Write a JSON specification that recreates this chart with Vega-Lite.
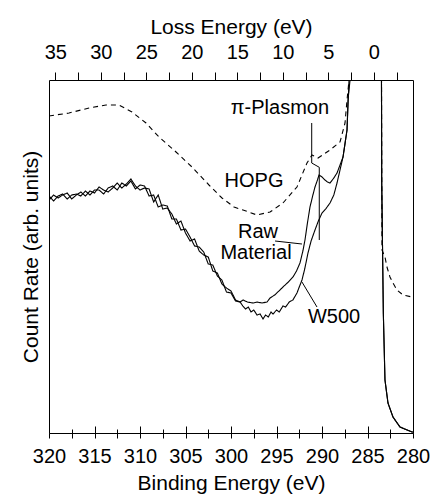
{
  "$schema": "https://vega.github.io/schema/vega-lite/v6.json",
  "width": 364,
  "height": 353,
  "autosize": {"type": "none"},
  "padding": {"left": 49, "top": 80, "right": 18, "bottom": 71},
  "background": "white",
  "config": {
    "view": {"stroke": "black", "strokeWidth": 1},
    "font": "Liberation Sans",
    "axis": {
      "labelFont": "Liberation Sans", "titleFont": "Liberation Sans",
      "labelFontSize": 20, "titleFontSize": 21, "titleFontWeight": "normal",
      "labelColor": "black", "titleColor": "black", "tickColor": "black", "domainColor": "black",
      "grid": false
    }
  },
  "datasets": {
    "spectra": [
      {"series":"HOPG","be":320,"count":317},{"series":"HOPG","be":317.8,"count":320},{"series":"HOPG","be":315.6,"count":325},{"series":"HOPG","be":313.74,"count":328},{"series":"HOPG","be":312.31,"count":328},{"series":"HOPG","be":310.88,"count":321},{"series":"HOPG","be":309.34,"count":310},{"series":"HOPG","be":307.91,"count":296},{"series":"HOPG","be":306.04,"count":281},{"series":"HOPG","be":304.29,"count":266},{"series":"HOPG","be":302.42,"count":248},{"series":"HOPG","be":300.99,"count":235},{"series":"HOPG","be":299.67,"count":226},{"series":"HOPG","be":298.68,"count":223},{"series":"HOPG","be":297.14,"count":218},{"series":"HOPG","be":295.71,"count":221},{"series":"HOPG","be":294.29,"count":230},{"series":"HOPG","be":292.75,"count":246},{"series":"HOPG","be":291.65,"count":270},{"series":"HOPG","be":291.1,"count":278},{"series":"HOPG","be":290.44,"count":275},{"series":"HOPG","be":289.12,"count":283},{"series":"HOPG","be":288.02,"count":291},{"series":"HOPG","be":287.47,"count":310},{"series":"HOPG","be":287.25,"count":333},{"series":"HOPG","be":287.03,"count":353},{"series":"HOPG","be":286.5,"count":600},{"series":"HOPG","be":285.5,"count":1500},{"series":"HOPG","be":284.5,"count":2500},{"series":"HOPG","be":283.8,"count":1500},{"series":"HOPG","be":283.5,"count":500},{"series":"HOPG","be":283.41,"count":183},{"series":"HOPG","be":283.08,"count":176},{"series":"HOPG","be":282.86,"count":166},{"series":"HOPG","be":282.53,"count":156},{"series":"HOPG","be":282.2,"count":150},{"series":"HOPG","be":281.76,"count":143},{"series":"HOPG","be":281.1,"count":138},{"series":"HOPG","be":280.11,"count":136},{"series":"HOPG","be":280,"count":136},
      {"series":"Raw Material","be":320,"count":237},{"series":"Raw Material","be":319.5,"count":232},{"series":"Raw Material","be":319,"count":237},{"series":"Raw Material","be":318.5,"count":239},{"series":"Raw Material","be":318,"count":234},{"series":"Raw Material","be":317.5,"count":238},{"series":"Raw Material","be":317,"count":239},{"series":"Raw Material","be":316.5,"count":237},{"series":"Raw Material","be":316,"count":242},{"series":"Raw Material","be":315.5,"count":238},{"series":"Raw Material","be":315,"count":243},{"series":"Raw Material","be":314.5,"count":243},{"series":"Raw Material","be":314,"count":239},{"series":"Raw Material","be":313.5,"count":245},{"series":"Raw Material","be":313,"count":247},{"series":"Raw Material","be":312.5,"count":243},{"series":"Raw Material","be":312,"count":250},{"series":"Raw Material","be":311.5,"count":247},{"series":"Raw Material","be":311,"count":252},{"series":"Raw Material","be":310.5,"count":244},{"series":"Raw Material","be":310,"count":248},{"series":"Raw Material","be":309.5,"count":247},{"series":"Raw Material","be":309,"count":237},{"series":"Raw Material","be":308.5,"count":238},{"series":"Raw Material","be":308,"count":226},{"series":"Raw Material","be":307.5,"count":228},{"series":"Raw Material","be":307,"count":227},{"series":"Raw Material","be":306.5,"count":214},{"series":"Raw Material","be":306,"count":214},{"series":"Raw Material","be":305.5,"count":203},{"series":"Raw Material","be":305,"count":204},{"series":"Raw Material","be":304.5,"count":196},{"series":"Raw Material","be":304,"count":187},{"series":"Raw Material","be":303.5,"count":186},{"series":"Raw Material","be":303,"count":181},{"series":"Raw Material","be":302.5,"count":169},{"series":"Raw Material","be":302,"count":168},{"series":"Raw Material","be":301.5,"count":157},{"series":"Raw Material","be":301,"count":153},{"series":"Raw Material","be":300.5,"count":141},{"series":"Raw Material","be":300,"count":140},{"series":"Raw Material","be":299.5,"count":132},{"series":"Raw Material","be":299,"count":131},{"series":"Raw Material","be":298.68,"count":133},{"series":"Raw Material","be":298.2,"count":131},{"series":"Raw Material","be":297.58,"count":130},{"series":"Raw Material","be":297.14,"count":131},{"series":"Raw Material","be":296.6,"count":130},{"series":"Raw Material","be":296.04,"count":131},{"series":"Raw Material","be":295.71,"count":135},{"series":"Raw Material","be":295.2,"count":138},{"series":"Raw Material","be":294.62,"count":143},{"series":"Raw Material","be":294.29,"count":146},{"series":"Raw Material","be":293.7,"count":151},{"series":"Raw Material","be":293.19,"count":156},{"series":"Raw Material","be":292.8,"count":162},{"series":"Raw Material","be":292.42,"count":170},{"series":"Raw Material","be":292.1,"count":182},{"series":"Raw Material","be":291.87,"count":193},{"series":"Raw Material","be":291.6,"count":210},{"series":"Raw Material","be":291.32,"count":226},{"series":"Raw Material","be":291,"count":238},{"series":"Raw Material","be":290.77,"count":246},{"series":"Raw Material","be":290.5,"count":253},{"series":"Raw Material","be":290.33,"count":258},{"series":"Raw Material","be":290,"count":256},{"series":"Raw Material","be":289.67,"count":253},{"series":"Raw Material","be":289.4,"count":251},{"series":"Raw Material","be":289.12,"count":250},{"series":"Raw Material","be":288.7,"count":255},{"series":"Raw Material","be":288.35,"count":260},{"series":"Raw Material","be":287.69,"count":276},{"series":"Raw Material","be":287.25,"count":303},{"series":"Raw Material","be":287.14,"count":333},{"series":"Raw Material","be":286.92,"count":353},{"series":"Raw Material","be":286.5,"count":600},{"series":"Raw Material","be":285.5,"count":1500},{"series":"Raw Material","be":284.5,"count":2500},{"series":"Raw Material","be":283.8,"count":1500},{"series":"Raw Material","be":283.5,"count":500},{"series":"Raw Material","be":283.44,"count":253},{"series":"Raw Material","be":283.26,"count":120},{"series":"Raw Material","be":283.08,"count":53},{"series":"Raw Material","be":282.75,"count":30},{"series":"Raw Material","be":282.2,"count":16},{"series":"Raw Material","be":281.43,"count":6},{"series":"Raw Material","be":280.11,"count":1},{"series":"Raw Material","be":280,"count":1},
      {"series":"W500","be":320,"count":233},{"series":"W500","be":319.5,"count":238},{"series":"W500","be":319,"count":235},{"series":"W500","be":318.5,"count":238},{"series":"W500","be":318,"count":240},{"series":"W500","be":317.5,"count":234},{"series":"W500","be":317,"count":238},{"series":"W500","be":316.5,"count":241},{"series":"W500","be":316,"count":237},{"series":"W500","be":315.5,"count":242},{"series":"W500","be":315,"count":240},{"series":"W500","be":314.5,"count":246},{"series":"W500","be":314,"count":243},{"series":"W500","be":313.5,"count":241},{"series":"W500","be":313,"count":245},{"series":"W500","be":312.5,"count":250},{"series":"W500","be":312,"count":245},{"series":"W500","be":311.5,"count":249},{"series":"W500","be":311,"count":254},{"series":"W500","be":310.5,"count":247},{"series":"W500","be":310,"count":243},{"series":"W500","be":309.5,"count":245},{"series":"W500","be":309,"count":244},{"series":"W500","be":308.5,"count":231},{"series":"W500","be":308,"count":238},{"series":"W500","be":307.5,"count":224},{"series":"W500","be":307,"count":225},{"series":"W500","be":306.5,"count":219},{"series":"W500","be":306,"count":209},{"series":"W500","be":305.5,"count":212},{"series":"W500","be":305,"count":200},{"series":"W500","be":304.5,"count":192},{"series":"W500","be":304,"count":194},{"series":"W500","be":303.5,"count":182},{"series":"W500","be":303,"count":178},{"series":"W500","be":302.5,"count":176},{"series":"W500","be":302,"count":162},{"series":"W500","be":301.5,"count":160},{"series":"W500","be":301,"count":149},{"series":"W500","be":300.5,"count":145},{"series":"W500","be":300,"count":142},{"series":"W500","be":299.5,"count":133},{"series":"W500","be":299,"count":131},{"series":"W500","be":298.7,"count":127},{"series":"W500","be":298.4,"count":124},{"series":"W500","be":298.1,"count":126},{"series":"W500","be":297.8,"count":121},{"series":"W500","be":297.5,"count":123},{"series":"W500","be":297.14,"count":118},{"series":"W500","be":296.8,"count":119},{"series":"W500","be":296.48,"count":114},{"series":"W500","be":296.2,"count":118},{"series":"W500","be":295.9,"count":116},{"series":"W500","be":295.6,"count":121},{"series":"W500","be":295.38,"count":119},{"series":"W500","be":295,"count":123},{"series":"W500","be":294.7,"count":121},{"series":"W500","be":294.29,"count":127},{"series":"W500","be":294,"count":126},{"series":"W500","be":293.6,"count":131},{"series":"W500","be":293.2,"count":133},{"series":"W500","be":292.75,"count":140},{"series":"W500","be":292.5,"count":146},{"series":"W500","be":292.2,"count":153},{"series":"W500","be":291.9,"count":164},{"series":"W500","be":291.54,"count":180},{"series":"W500","be":291.2,"count":192},{"series":"W500","be":290.77,"count":203},{"series":"W500","be":290.4,"count":212},{"series":"W500","be":290,"count":220},{"series":"W500","be":289.6,"count":224},{"series":"W500","be":289.12,"count":230},{"series":"W500","be":288.7,"count":238},{"series":"W500","be":288.35,"count":250},{"series":"W500","be":287.69,"count":276},{"series":"W500","be":287.25,"count":303},{"series":"W500","be":287.03,"count":353},{"series":"W500","be":286.5,"count":600},{"series":"W500","be":285.5,"count":1500},{"series":"W500","be":284.5,"count":2500},{"series":"W500","be":283.8,"count":1500},{"series":"W500","be":283.5,"count":500},{"series":"W500","be":283.44,"count":253},{"series":"W500","be":283.26,"count":120},{"series":"W500","be":283.08,"count":53},{"series":"W500","be":282.75,"count":30},{"series":"W500","be":282.2,"count":16},{"series":"W500","be":281.43,"count":6},{"series":"W500","be":280.11,"count":1},{"series":"W500","be":280,"count":1}
    ],
    "labels": [
      {"be":294.62,"count":325,"label":"π-Plasmon"},
      {"be":297.47,"count":252,"label":"HOPG"},
      {"be":297.03,"count":201,"label":"Raw"},
      {"be":297.25,"count":180,"label":"Material"},
      {"be":288.68,"count":116,"label":"W500"}
    ],
    "leaders": [
      {"be":291.13,"count":310,"be2":291.13,"count2":270},
      {"be":291.13,"count":270,"be2":290.3,"count2":265.7},
      {"be":290.3,"count":265.7,"be2":290.3,"count2":193},
      {"be":295.16,"count":192,"be2":292.2,"count2":189},
      {"be":292.2,"count":151,"be2":290.55,"count2":126}
    ],
    "loss": [{"loss":35},{"loss":0}],
    "frame": [{"be":320},{"be":280}]
  },
  "layer": [
    {
      "encoding": {
        "x": {"field":"be","type":"quantitative","title":"Binding Energy (eV)",
          "scale":{"domain":[280,320],"reverse":true,"nice":false,"zero":false},
          "axis":{"orient":"bottom","values":[320,317.5,315,312.5,310,307.5,305,302.5,300,297.5,295,292.5,290,287.5,285,282.5,280],
            "labelExpr":"datum.value % 5 === 0 ? datum.label : ''","tickSize":5,"labelPadding":8,"titlePadding":6,"domain":false,"labelFlush":false,"labelOverlap":false}},
        "y": {"field":"count","type":"quantitative","title":"Count Rate (arb. units)",
          "scale":{"domain":[0,353],"nice":false,"zero":false},
          "axis":{"labels":false,"ticks":false,"domain":false,"titlePadding":8}}
      },
      "layer": [
        {"data":{"name":"spectra"},"mark":{"type":"line","clip":true,"color":"black","strokeWidth":1.1},
         "encoding":{"detail":{"field":"series"},
           "strokeDash":{"field":"series","type":"nominal","legend":null,
             "scale":{"domain":["HOPG","Raw Material","W500"],"range":[[5,4],[1,0],[1,0]]}}}},
        {"data":{"name":"leaders"},"mark":{"type":"rule","color":"black","strokeWidth":1},
         "encoding":{"x2":{"field":"be2"},"y2":{"field":"count2"}}},
        {"data":{"name":"labels"},"mark":{"type":"text","font":"Liberation Sans","fontSize":20,"color":"black","align":"center","baseline":"middle"},
         "encoding":{"text":{"field":"label"}}}
      ]
    },
    {
      "data":{"name":"loss"},
      "mark":{"type":"rule","opacity":0},
      "encoding":{
        "x":{"field":"loss","type":"quantitative","title":"Loss Energy (eV)",
          "scale":{"domain":[-4.3,35.7],"reverse":true,"nice":false,"zero":false},
          "axis":{"orient":"top","values":[35,32.5,30,27.5,25,22.5,20,17.5,15,12.5,10,7.5,5,2.5,0,-2.5],
            "labelExpr":"datum.value % 5 === 0 ? datum.label : ''","tickSize":8,"labelPadding":10,"titlePadding":5,"domain":false,"labelFlush":false,"labelOverlap":false}}
      }
    },
    {
      "data":{"name":"frame"},
      "mark":{"type":"rule","opacity":0},
      "encoding":{
        "x":{"field":"be","type":"quantitative","title":null,
          "scale":{"domain":[280,320],"reverse":true,"nice":false,"zero":false},
          "axis":{"orient":"bottom","values":[320,317.5,315,312.5,310,307.5,305,302.5,300,297.5,295,292.5,290,287.5,285,282.5,280],
            "labels":false,"domain":false,
            "tickSize":{"condition":{"test":"datum.value % 5 === 0","value":-7},"value":-4}}}
      }
    }
  ],
  "resolve": {"scale": {"x": "independent"}}
}
